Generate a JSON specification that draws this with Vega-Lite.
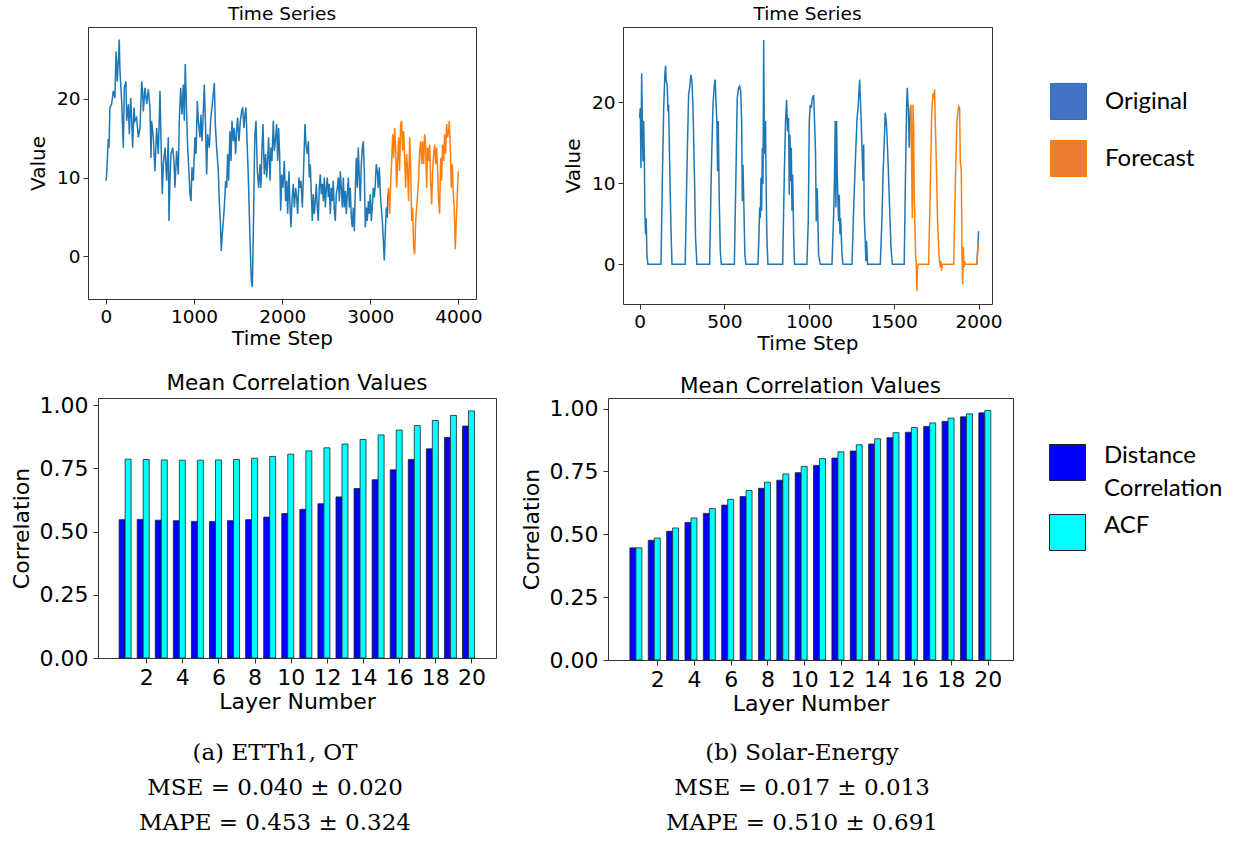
{
"$schema": "https://vega.github.io/schema/vega-lite/v6.json",
"background": "white",
"padding": {"left": 0, "top": 4, "right": 0, "bottom": 0},
"spacing": 18,
"config": {
  "font": "DejaVu Sans",
  "view": {"stroke": "#333333", "strokeWidth": 1},
  "axis": {"grid": false, "domain": false, "labelColor": "black", "titleColor": "black", "tickColor": "#333333", "tickSize": 5, "labelFont": "DejaVu Sans", "titleFont": "DejaVu Sans", "titleFontWeight": "normal"},
  "title": {"fontWeight": "normal", "color": "black", "font": "DejaVu Sans"},
  "style": {"guide-label": {"lineHeight": 33}}
},
"datasets": {
  "etth": [
    {"t":0,"v":9.6,"s":"Original"},{"t":8,"v":10.4,"s":"Original"},{"t":26,"v":14.9,"s":"Original"},{"t":34,"v":13.8,"s":"Original"},{"t":45,"v":18.9,"s":"Original"},{"t":64,"v":19.3,"s":"Original"},{"t":83,"v":21.0,"s":"Original"},{"t":102,"v":20.1,"s":"Original"},{"t":114,"v":26.0,"s":"Original"},{"t":129,"v":22.2,"s":"Original"},{"t":140,"v":24.8,"s":"Original"},{"t":151,"v":27.5,"s":"Original"},{"t":159,"v":23.5,"s":"Original"},{"t":178,"v":19.7,"s":"Original"},{"t":197,"v":13.8,"s":"Original"},{"t":208,"v":21.4,"s":"Original"},{"t":227,"v":22.2,"s":"Original"},{"t":235,"v":17.2,"s":"Original"},{"t":254,"v":19.3,"s":"Original"},{"t":265,"v":15.5,"s":"Original"},{"t":280,"v":20.1,"s":"Original"},{"t":291,"v":17.6,"s":"Original"},{"t":303,"v":13.8,"s":"Original"},{"t":318,"v":18.9,"s":"Original"},{"t":329,"v":17.2,"s":"Original"},{"t":348,"v":17.6,"s":"Original"},{"t":367,"v":15.1,"s":"Original"},{"t":386,"v":16.3,"s":"Original"},{"t":405,"v":22.2,"s":"Original"},{"t":416,"v":21.0,"s":"Original"},{"t":424,"v":18.4,"s":"Original"},{"t":443,"v":21.4,"s":"Original"},{"t":462,"v":19.3,"s":"Original"},{"t":481,"v":21.2,"s":"Original"},{"t":499,"v":18.9,"s":"Original"},{"t":511,"v":12.5,"s":"Original"},{"t":518,"v":17.2,"s":"Original"},{"t":537,"v":15.1,"s":"Original"},{"t":556,"v":10.8,"s":"Original"},{"t":575,"v":16.3,"s":"Original"},{"t":594,"v":13.0,"s":"Original"},{"t":613,"v":21.0,"s":"Original"},{"t":624,"v":15.1,"s":"Original"},{"t":639,"v":7.9,"s":"Original"},{"t":651,"v":11.7,"s":"Original"},{"t":670,"v":13.8,"s":"Original"},{"t":689,"v":9.6,"s":"Original"},{"t":708,"v":15.1,"s":"Original"},{"t":715,"v":4.5,"s":"Original"},{"t":726,"v":9.6,"s":"Original"},{"t":738,"v":13.0,"s":"Original"},{"t":757,"v":13.8,"s":"Original"},{"t":772,"v":12.1,"s":"Original"},{"t":783,"v":8.7,"s":"Original"},{"t":802,"v":13.4,"s":"Original"},{"t":821,"v":10.4,"s":"Original"},{"t":832,"v":17.2,"s":"Original"},{"t":848,"v":21.4,"s":"Original"},{"t":863,"v":18.0,"s":"Original"},{"t":878,"v":21.8,"s":"Original"},{"t":889,"v":17.2,"s":"Original"},{"t":900,"v":24.4,"s":"Original"},{"t":916,"v":18.0,"s":"Original"},{"t":927,"v":13.8,"s":"Original"},{"t":942,"v":10.8,"s":"Original"},{"t":953,"v":7.9,"s":"Original"},{"t":965,"v":7.0,"s":"Original"},{"t":976,"v":11.3,"s":"Original"},{"t":991,"v":9.6,"s":"Original"},{"t":1010,"v":15.1,"s":"Original"},{"t":1022,"v":13.0,"s":"Original"},{"t":1037,"v":19.7,"s":"Original"},{"t":1048,"v":17.2,"s":"Original"},{"t":1067,"v":15.1,"s":"Original"},{"t":1078,"v":18.0,"s":"Original"},{"t":1090,"v":14.6,"s":"Original"},{"t":1105,"v":18.4,"s":"Original"},{"t":1116,"v":21.8,"s":"Original"},{"t":1128,"v":17.2,"s":"Original"},{"t":1143,"v":10.4,"s":"Original"},{"t":1154,"v":15.5,"s":"Original"},{"t":1173,"v":13.8,"s":"Original"},{"t":1188,"v":17.2,"s":"Original"},{"t":1203,"v":18.9,"s":"Original"},{"t":1218,"v":20.6,"s":"Original"},{"t":1230,"v":22.0,"s":"Original"},{"t":1241,"v":16.8,"s":"Original"},{"t":1256,"v":13.8,"s":"Original"},{"t":1275,"v":10.8,"s":"Original"},{"t":1286,"v":7.0,"s":"Original"},{"t":1298,"v":4.5,"s":"Original"},{"t":1309,"v":0.7,"s":"Original"},{"t":1320,"v":2.8,"s":"Original"},{"t":1332,"v":4.5,"s":"Original"},{"t":1343,"v":6.2,"s":"Original"},{"t":1358,"v":9.6,"s":"Original"},{"t":1370,"v":8.7,"s":"Original"},{"t":1381,"v":13.0,"s":"Original"},{"t":1392,"v":9.6,"s":"Original"},{"t":1407,"v":15.9,"s":"Original"},{"t":1419,"v":12.1,"s":"Original"},{"t":1430,"v":17.2,"s":"Original"},{"t":1445,"v":14.6,"s":"Original"},{"t":1457,"v":16.3,"s":"Original"},{"t":1472,"v":13.0,"s":"Original"},{"t":1483,"v":15.9,"s":"Original"},{"t":1494,"v":17.6,"s":"Original"},{"t":1510,"v":14.6,"s":"Original"},{"t":1525,"v":17.2,"s":"Original"},{"t":1540,"v":18.4,"s":"Original"},{"t":1551,"v":18.9,"s":"Original"},{"t":1566,"v":16.3,"s":"Original"},{"t":1578,"v":18.0,"s":"Original"},{"t":1589,"v":18.9,"s":"Original"},{"t":1604,"v":13.8,"s":"Original"},{"t":1616,"v":10.0,"s":"Original"},{"t":1627,"v":5.4,"s":"Original"},{"t":1638,"v":1.1,"s":"Original"},{"t":1650,"v":-3.1,"s":"Original"},{"t":1661,"v":-3.9,"s":"Original"},{"t":1669,"v":0.7,"s":"Original"},{"t":1676,"v":5.4,"s":"Original"},{"t":1684,"v":12.1,"s":"Original"},{"t":1691,"v":15.5,"s":"Original"},{"t":1703,"v":17.2,"s":"Original"},{"t":1718,"v":10.8,"s":"Original"},{"t":1733,"v":8.7,"s":"Original"},{"t":1748,"v":11.7,"s":"Original"},{"t":1759,"v":8.7,"s":"Original"},{"t":1771,"v":13.8,"s":"Original"},{"t":1782,"v":16.8,"s":"Original"},{"t":1797,"v":10.4,"s":"Original"},{"t":1812,"v":13.0,"s":"Original"},{"t":1824,"v":10.0,"s":"Original"},{"t":1835,"v":12.1,"s":"Original"},{"t":1846,"v":15.1,"s":"Original"},{"t":1862,"v":9.6,"s":"Original"},{"t":1873,"v":13.8,"s":"Original"},{"t":1884,"v":12.1,"s":"Original"},{"t":1899,"v":17.2,"s":"Original"},{"t":1911,"v":13.4,"s":"Original"},{"t":1922,"v":14.6,"s":"Original"},{"t":1937,"v":16.8,"s":"Original"},{"t":1949,"v":12.1,"s":"Original"},{"t":1960,"v":16.3,"s":"Original"},{"t":1971,"v":13.0,"s":"Original"},{"t":1983,"v":5.8,"s":"Original"},{"t":1994,"v":10.4,"s":"Original"},{"t":2009,"v":8.7,"s":"Original"},{"t":2024,"v":12.1,"s":"Original"},{"t":2039,"v":7.0,"s":"Original"},{"t":2051,"v":9.6,"s":"Original"},{"t":2062,"v":5.4,"s":"Original"},{"t":2077,"v":10.8,"s":"Original"},{"t":2089,"v":6.2,"s":"Original"},{"t":2100,"v":3.7,"s":"Original"},{"t":2111,"v":7.0,"s":"Original"},{"t":2126,"v":9.2,"s":"Original"},{"t":2138,"v":6.2,"s":"Original"},{"t":2153,"v":8.7,"s":"Original"},{"t":2164,"v":7.5,"s":"Original"},{"t":2176,"v":5.4,"s":"Original"},{"t":2191,"v":10.0,"s":"Original"},{"t":2202,"v":8.7,"s":"Original"},{"t":2213,"v":9.6,"s":"Original"},{"t":2229,"v":6.2,"s":"Original"},{"t":2244,"v":11.3,"s":"Original"},{"t":2259,"v":16.8,"s":"Original"},{"t":2270,"v":14.2,"s":"Original"},{"t":2285,"v":13.0,"s":"Original"},{"t":2297,"v":14.6,"s":"Original"},{"t":2308,"v":10.0,"s":"Original"},{"t":2319,"v":11.7,"s":"Original"},{"t":2331,"v":7.9,"s":"Original"},{"t":2342,"v":4.5,"s":"Original"},{"t":2353,"v":7.9,"s":"Original"},{"t":2365,"v":5.4,"s":"Original"},{"t":2376,"v":7.0,"s":"Original"},{"t":2387,"v":9.2,"s":"Original"},{"t":2399,"v":6.2,"s":"Original"},{"t":2410,"v":4.5,"s":"Original"},{"t":2421,"v":8.7,"s":"Original"},{"t":2433,"v":10.4,"s":"Original"},{"t":2444,"v":7.9,"s":"Original"},{"t":2456,"v":9.2,"s":"Original"},{"t":2467,"v":7.0,"s":"Original"},{"t":2478,"v":10.0,"s":"Original"},{"t":2490,"v":6.2,"s":"Original"},{"t":2501,"v":8.7,"s":"Original"},{"t":2512,"v":10.0,"s":"Original"},{"t":2524,"v":7.5,"s":"Original"},{"t":2535,"v":9.2,"s":"Original"},{"t":2546,"v":5.4,"s":"Original"},{"t":2558,"v":8.7,"s":"Original"},{"t":2569,"v":7.0,"s":"Original"},{"t":2580,"v":9.6,"s":"Original"},{"t":2592,"v":5.8,"s":"Original"},{"t":2603,"v":4.5,"s":"Original"},{"t":2614,"v":7.9,"s":"Original"},{"t":2626,"v":8.7,"s":"Original"},{"t":2637,"v":10.0,"s":"Original"},{"t":2649,"v":7.0,"s":"Original"},{"t":2660,"v":10.8,"s":"Original"},{"t":2671,"v":8.7,"s":"Original"},{"t":2683,"v":6.2,"s":"Original"},{"t":2694,"v":10.0,"s":"Original"},{"t":2705,"v":6.2,"s":"Original"},{"t":2717,"v":8.3,"s":"Original"},{"t":2728,"v":5.4,"s":"Original"},{"t":2739,"v":7.9,"s":"Original"},{"t":2751,"v":10.0,"s":"Original"},{"t":2762,"v":6.2,"s":"Original"},{"t":2773,"v":8.7,"s":"Original"},{"t":2785,"v":4.9,"s":"Original"},{"t":2796,"v":3.7,"s":"Original"},{"t":2807,"v":6.2,"s":"Original"},{"t":2819,"v":3.2,"s":"Original"},{"t":2830,"v":8.3,"s":"Original"},{"t":2841,"v":12.5,"s":"Original"},{"t":2853,"v":8.7,"s":"Original"},{"t":2864,"v":13.8,"s":"Original"},{"t":2876,"v":10.0,"s":"Original"},{"t":2887,"v":7.0,"s":"Original"},{"t":2898,"v":11.7,"s":"Original"},{"t":2910,"v":13.8,"s":"Original"},{"t":2921,"v":14.6,"s":"Original"},{"t":2932,"v":10.8,"s":"Original"},{"t":2944,"v":3.7,"s":"Original"},{"t":2955,"v":6.2,"s":"Original"},{"t":2966,"v":4.5,"s":"Original"},{"t":2978,"v":7.0,"s":"Original"},{"t":2989,"v":5.4,"s":"Original"},{"t":3000,"v":7.9,"s":"Original"},{"t":3012,"v":4.5,"s":"Original"},{"t":3023,"v":6.2,"s":"Original"},{"t":3034,"v":8.7,"s":"Original"},{"t":3046,"v":7.5,"s":"Original"},{"t":3057,"v":9.2,"s":"Original"},{"t":3068,"v":11.7,"s":"Original"},{"t":3080,"v":10.8,"s":"Original"},{"t":3091,"v":8.7,"s":"Original"},{"t":3103,"v":11.3,"s":"Original"},{"t":3114,"v":7.9,"s":"Original"},{"t":3125,"v":6.2,"s":"Original"},{"t":3137,"v":4.5,"s":"Original"},{"t":3148,"v":2.0,"s":"Original"},{"t":3159,"v":-0.5,"s":"Original"},{"t":3171,"v":3.2,"s":"Original"},{"t":3182,"v":6.2,"s":"Original"},{"t":3193,"v":4.9,"s":"Original"},{"t":3200,"v":7.9,"s":"Original"},
    {"t":3200,"v":7.9,"s":"Forecast"},{"t":3208,"v":8.7,"s":"Forecast"},{"t":3220,"v":5.4,"s":"Forecast"},{"t":3231,"v":9.2,"s":"Forecast"},{"t":3243,"v":12.1,"s":"Forecast"},{"t":3254,"v":15.5,"s":"Forecast"},{"t":3265,"v":12.5,"s":"Forecast"},{"t":3277,"v":16.3,"s":"Forecast"},{"t":3288,"v":13.8,"s":"Forecast"},{"t":3299,"v":8.7,"s":"Forecast"},{"t":3311,"v":12.1,"s":"Forecast"},{"t":3322,"v":15.1,"s":"Forecast"},{"t":3333,"v":10.8,"s":"Forecast"},{"t":3345,"v":16.8,"s":"Forecast"},{"t":3356,"v":17.2,"s":"Forecast"},{"t":3367,"v":13.4,"s":"Forecast"},{"t":3379,"v":15.9,"s":"Forecast"},{"t":3390,"v":12.5,"s":"Forecast"},{"t":3401,"v":8.7,"s":"Forecast"},{"t":3413,"v":13.0,"s":"Forecast"},{"t":3424,"v":10.8,"s":"Forecast"},{"t":3435,"v":7.0,"s":"Forecast"},{"t":3447,"v":15.1,"s":"Forecast"},{"t":3458,"v":11.7,"s":"Forecast"},{"t":3470,"v":4.5,"s":"Forecast"},{"t":3481,"v":6.2,"s":"Forecast"},{"t":3492,"v":1.1,"s":"Forecast"},{"t":3504,"v":0.3,"s":"Forecast"},{"t":3515,"v":4.5,"s":"Forecast"},{"t":3526,"v":6.2,"s":"Forecast"},{"t":3538,"v":7.9,"s":"Forecast"},{"t":3549,"v":10.0,"s":"Forecast"},{"t":3560,"v":13.4,"s":"Forecast"},{"t":3572,"v":14.6,"s":"Forecast"},{"t":3583,"v":11.7,"s":"Forecast"},{"t":3594,"v":14.6,"s":"Forecast"},{"t":3606,"v":11.7,"s":"Forecast"},{"t":3617,"v":15.5,"s":"Forecast"},{"t":3628,"v":14.2,"s":"Forecast"},{"t":3640,"v":8.7,"s":"Forecast"},{"t":3651,"v":13.8,"s":"Forecast"},{"t":3662,"v":12.1,"s":"Forecast"},{"t":3674,"v":14.2,"s":"Forecast"},{"t":3685,"v":9.6,"s":"Forecast"},{"t":3697,"v":6.6,"s":"Forecast"},{"t":3708,"v":10.8,"s":"Forecast"},{"t":3719,"v":13.0,"s":"Forecast"},{"t":3731,"v":14.2,"s":"Forecast"},{"t":3742,"v":11.7,"s":"Forecast"},{"t":3753,"v":13.8,"s":"Forecast"},{"t":3765,"v":10.8,"s":"Forecast"},{"t":3776,"v":7.0,"s":"Forecast"},{"t":3787,"v":5.4,"s":"Forecast"},{"t":3799,"v":12.5,"s":"Forecast"},{"t":3810,"v":9.6,"s":"Forecast"},{"t":3821,"v":14.2,"s":"Forecast"},{"t":3833,"v":12.1,"s":"Forecast"},{"t":3844,"v":15.5,"s":"Forecast"},{"t":3855,"v":13.0,"s":"Forecast"},{"t":3867,"v":16.8,"s":"Forecast"},{"t":3878,"v":15.1,"s":"Forecast"},{"t":3889,"v":15.9,"s":"Forecast"},{"t":3897,"v":17.2,"s":"Forecast"},{"t":3908,"v":13.8,"s":"Forecast"},{"t":3920,"v":8.7,"s":"Forecast"},{"t":3931,"v":11.7,"s":"Forecast"},{"t":3942,"v":7.9,"s":"Forecast"},{"t":3953,"v":6.2,"s":"Forecast"},{"t":3965,"v":0.9,"s":"Forecast"},{"t":3976,"v":4.5,"s":"Forecast"},{"t":3988,"v":7.9,"s":"Forecast"},{"t":3999,"v":10.8,"s":"Forecast"}
  ],
  "solar": [
    {"t":0,"v":18.1,"s":"Original","g":"a"},{"t":4,"v":19.3,"s":"Original","g":"a"},{"t":8,"v":11.9,"s":"Original","g":"a"},{"t":12,"v":23.6,"s":"Original","g":"a"},{"t":16,"v":18.1,"s":"Original","g":"a"},{"t":20,"v":12.7,"s":"Original","g":"a"},{"t":24,"v":17.7,"s":"Original","g":"a"},{"t":28,"v":13.1,"s":"Original","g":"a"},{"t":31,"v":6.2,"s":"Original","g":"a"},{"t":35,"v":3.7,"s":"Original","g":"a"},{"t":39,"v":5.7,"s":"Original","g":"a"},{"t":43,"v":1.2,"s":"Original","g":"a"},{"t":49,"v":0,"s":"Original","g":"a"},{"t":126,"v":0,"s":"Original","g":"a"},{"t":134,"v":10.3,"s":"Original","g":"a"},{"t":142,"v":19.3,"s":"Original","g":"a"},{"t":149,"v":23.4,"s":"Original","g":"a"},{"t":153,"v":24.5,"s":"Original","g":"a"},{"t":157,"v":22.6,"s":"Original","g":"a"},{"t":163,"v":22.2,"s":"Original","g":"a"},{"t":167,"v":18.9,"s":"Original","g":"a"},{"t":171,"v":19.7,"s":"Original","g":"a"},{"t":177,"v":12.7,"s":"Original","g":"a"},{"t":185,"v":4.5,"s":"Original","g":"a"},{"t":191,"v":0,"s":"Original","g":"a"},{"t":269,"v":0,"s":"Original","g":"a"},{"t":279,"v":11.5,"s":"Original","g":"a"},{"t":289,"v":20.9,"s":"Original","g":"a"},{"t":295,"v":21.8,"s":"Original","g":"a"},{"t":303,"v":23.4,"s":"Original","g":"a"},{"t":309,"v":22.6,"s":"Original","g":"a"},{"t":315,"v":19.3,"s":"Original","g":"a"},{"t":323,"v":11.5,"s":"Original","g":"a"},{"t":330,"v":3.3,"s":"Original","g":"a"},{"t":338,"v":0,"s":"Original","g":"a"},{"t":413,"v":0,"s":"Original","g":"a"},{"t":423,"v":11.5,"s":"Original","g":"a"},{"t":433,"v":19.7,"s":"Original","g":"a"},{"t":441,"v":22.2,"s":"Original","g":"a"},{"t":446,"v":22.8,"s":"Original","g":"a"},{"t":452,"v":19.3,"s":"Original","g":"a"},{"t":456,"v":17.7,"s":"Original","g":"a"},{"t":460,"v":11.5,"s":"Original","g":"a"},{"t":464,"v":17.7,"s":"Original","g":"a"},{"t":470,"v":7.8,"s":"Original","g":"a"},{"t":476,"v":1.6,"s":"Original","g":"a"},{"t":482,"v":0,"s":"Original","g":"a"},{"t":559,"v":0,"s":"Original","g":"a"},{"t":568,"v":10.7,"s":"Original","g":"a"},{"t":576,"v":20.5,"s":"Original","g":"a"},{"t":584,"v":21.8,"s":"Original","g":"a"},{"t":590,"v":22.0,"s":"Original","g":"a"},{"t":596,"v":21.4,"s":"Original","g":"a"},{"t":602,"v":17.7,"s":"Original","g":"a"},{"t":606,"v":7.8,"s":"Original","g":"a"},{"t":610,"v":12.3,"s":"Original","g":"a"},{"t":616,"v":6.2,"s":"Original","g":"a"},{"t":621,"v":1.2,"s":"Original","g":"a"},{"t":627,"v":0,"s":"Original","g":"a"},{"t":698,"v":0,"s":"Original","g":"a"},{"t":704,"v":3.3,"s":"Original","g":"a"},{"t":708,"v":7.0,"s":"Original","g":"a"},{"t":712,"v":5.7,"s":"Original","g":"a"},{"t":716,"v":10.7,"s":"Original","g":"a"},{"t":720,"v":6.6,"s":"Original","g":"a"},{"t":724,"v":14.4,"s":"Original","g":"a"},{"t":728,"v":9.9,"s":"Original","g":"a"},{"t":732,"v":27.7,"s":"Original","g":"a"},{"t":736,"v":15.2,"s":"Original","g":"a"},{"t":739,"v":13.6,"s":"Original","g":"a"},{"t":743,"v":17.7,"s":"Original","g":"a"},{"t":747,"v":8.6,"s":"Original","g":"a"},{"t":751,"v":3.3,"s":"Original","g":"a"},{"t":757,"v":0,"s":"Original","g":"a"},{"t":844,"v":0,"s":"Original","g":"a"},{"t":854,"v":11.5,"s":"Original","g":"a"},{"t":861,"v":17.7,"s":"Original","g":"a"},{"t":867,"v":20.3,"s":"Original","g":"a"},{"t":873,"v":16.4,"s":"Original","g":"a"},{"t":879,"v":18.1,"s":"Original","g":"a"},{"t":883,"v":8.6,"s":"Original","g":"a"},{"t":887,"v":16.0,"s":"Original","g":"a"},{"t":891,"v":10.3,"s":"Original","g":"a"},{"t":895,"v":14.4,"s":"Original","g":"a"},{"t":899,"v":6.6,"s":"Original","g":"a"},{"t":903,"v":11.1,"s":"Original","g":"a"},{"t":909,"v":3.3,"s":"Original","g":"a"},{"t":914,"v":0,"s":"Original","g":"a"},{"t":987,"v":0,"s":"Original","g":"a"},{"t":995,"v":5.3,"s":"Original","g":"a"},{"t":1001,"v":17.7,"s":"Original","g":"a"},{"t":1007,"v":19.7,"s":"Original","g":"a"},{"t":1013,"v":19.3,"s":"Original","g":"a"},{"t":1019,"v":20.5,"s":"Original","g":"a"},{"t":1027,"v":20.9,"s":"Original","g":"a"},{"t":1032,"v":17.7,"s":"Original","g":"a"},{"t":1038,"v":13.6,"s":"Original","g":"a"},{"t":1042,"v":5.3,"s":"Original","g":"a"},{"t":1048,"v":9.4,"s":"Original","g":"a"},{"t":1056,"v":1.2,"s":"Original","g":"a"},{"t":1066,"v":0,"s":"Original","g":"a"},{"t":1135,"v":0,"s":"Original","g":"a"},{"t":1145,"v":6.2,"s":"Original","g":"a"},{"t":1150,"v":11.1,"s":"Original","g":"a"},{"t":1154,"v":17.7,"s":"Original","g":"a"},{"t":1158,"v":7.0,"s":"Original","g":"a"},{"t":1162,"v":17.7,"s":"Original","g":"a"},{"t":1166,"v":11.5,"s":"Original","g":"a"},{"t":1170,"v":7.8,"s":"Original","g":"a"},{"t":1174,"v":5.3,"s":"Original","g":"a"},{"t":1178,"v":8.6,"s":"Original","g":"a"},{"t":1182,"v":3.7,"s":"Original","g":"a"},{"t":1186,"v":5.7,"s":"Original","g":"a"},{"t":1194,"v":1.2,"s":"Original","g":"a"},{"t":1200,"v":0,"s":"Original","g":"a"},{"t":1253,"v":0,"s":"Original","g":"a"},{"t":1263,"v":7.0,"s":"Original","g":"a"},{"t":1272,"v":12.3,"s":"Original","g":"a"},{"t":1282,"v":17.7,"s":"Original","g":"a"},{"t":1290,"v":19.7,"s":"Original","g":"a"},{"t":1298,"v":22.8,"s":"Original","g":"a"},{"t":1306,"v":18.5,"s":"Original","g":"a"},{"t":1312,"v":14.4,"s":"Original","g":"a"},{"t":1318,"v":10.3,"s":"Original","g":"a"},{"t":1322,"v":14.8,"s":"Original","g":"a"},{"t":1325,"v":6.2,"s":"Original","g":"a"},{"t":1331,"v":2.9,"s":"Original","g":"a"},{"t":1335,"v":0.4,"s":"Original","g":"a"},{"t":1339,"v":2.9,"s":"Original","g":"a"},{"t":1345,"v":0,"s":"Original","g":"a"},{"t":1420,"v":0,"s":"Original","g":"a"},{"t":1430,"v":5.7,"s":"Original","g":"a"},{"t":1436,"v":11.1,"s":"Original","g":"a"},{"t":1442,"v":14.4,"s":"Original","g":"a"},{"t":1449,"v":18.7,"s":"Original","g":"a"},{"t":1455,"v":17.7,"s":"Original","g":"a"},{"t":1461,"v":15.2,"s":"Original","g":"a"},{"t":1467,"v":11.9,"s":"Original","g":"a"},{"t":1475,"v":7.0,"s":"Original","g":"a"},{"t":1483,"v":2.1,"s":"Original","g":"a"},{"t":1491,"v":0,"s":"Original","g":"a"},{"t":1561,"v":0,"s":"Original","g":"a"},{"t":1569,"v":11.5,"s":"Original","g":"a"},{"t":1575,"v":19.3,"s":"Original","g":"a"},{"t":1579,"v":21.8,"s":"Original","g":"a"},{"t":1585,"v":19.3,"s":"Original","g":"a"},{"t":1591,"v":14.4,"s":"Original","g":"a"},{"t":1597,"v":19.3,"s":"Original","g":"a"},
    {"t":1990,"v":0,"s":"Original","g":"b"},{"t":2000,"v":4.1,"s":"Original","g":"b"},
    {"t":1597,"v":19.3,"s":"Forecast","g":"c"},{"t":1601,"v":19.7,"s":"Forecast","g":"c"},{"t":1605,"v":11.9,"s":"Forecast","g":"c"},{"t":1609,"v":5.7,"s":"Forecast","g":"c"},{"t":1613,"v":19.7,"s":"Forecast","g":"c"},{"t":1617,"v":16.4,"s":"Forecast","g":"c"},{"t":1620,"v":8.6,"s":"Forecast","g":"c"},{"t":1624,"v":5.3,"s":"Forecast","g":"c"},{"t":1628,"v":1.2,"s":"Forecast","g":"c"},{"t":1632,"v":0,"s":"Forecast","g":"c"},{"t":1636,"v":-3.3,"s":"Forecast","g":"c"},{"t":1640,"v":-0.4,"s":"Forecast","g":"c"},{"t":1644,"v":0,"s":"Forecast","g":"c"},{"t":1705,"v":0,"s":"Forecast","g":"c"},{"t":1715,"v":9.4,"s":"Forecast","g":"c"},{"t":1723,"v":18.5,"s":"Forecast","g":"c"},{"t":1731,"v":21.1,"s":"Forecast","g":"c"},{"t":1737,"v":20.5,"s":"Forecast","g":"c"},{"t":1740,"v":21.6,"s":"Forecast","g":"c"},{"t":1744,"v":17.7,"s":"Forecast","g":"c"},{"t":1748,"v":14.8,"s":"Forecast","g":"c"},{"t":1752,"v":11.1,"s":"Forecast","g":"c"},{"t":1758,"v":5.3,"s":"Forecast","g":"c"},{"t":1766,"v":1.2,"s":"Forecast","g":"c"},{"t":1774,"v":-0.4,"s":"Forecast","g":"c"},{"t":1778,"v":0.4,"s":"Forecast","g":"c"},{"t":1782,"v":-0.8,"s":"Forecast","g":"c"},{"t":1786,"v":0,"s":"Forecast","g":"c"},{"t":1853,"v":0,"s":"Forecast","g":"c"},{"t":1862,"v":9.4,"s":"Forecast","g":"c"},{"t":1872,"v":17.7,"s":"Forecast","g":"c"},{"t":1882,"v":19.5,"s":"Forecast","g":"c"},{"t":1888,"v":19.3,"s":"Forecast","g":"c"},{"t":1892,"v":12.7,"s":"Forecast","g":"c"},{"t":1898,"v":11.5,"s":"Forecast","g":"c"},{"t":1902,"v":1.2,"s":"Forecast","g":"c"},{"t":1906,"v":-2.5,"s":"Forecast","g":"c"},{"t":1910,"v":2.1,"s":"Forecast","g":"c"},{"t":1914,"v":-0.4,"s":"Forecast","g":"c"},{"t":1917,"v":0.4,"s":"Forecast","g":"c"},{"t":1921,"v":0,"s":"Forecast","g":"c"},{"t":1990,"v":0,"s":"Forecast","g":"c"},{"t":1996,"v":2.1,"s":"Forecast","g":"c"},{"t":2000,"v":2.7,"s":"Forecast","g":"c"}
  ],
  "ettbars": [
    {"layer":1,"dcor":0.547,"acf":0.786},{"layer":2,"dcor":0.548,"acf":0.785},{"layer":3,"dcor":0.545,"acf":0.783},{"layer":4,"dcor":0.543,"acf":0.782},{"layer":5,"dcor":0.540,"acf":0.782},{"layer":6,"dcor":0.540,"acf":0.783},{"layer":7,"dcor":0.543,"acf":0.785},{"layer":8,"dcor":0.547,"acf":0.790},{"layer":9,"dcor":0.557,"acf":0.797},{"layer":10,"dcor":0.571,"acf":0.806},{"layer":11,"dcor":0.588,"acf":0.819},{"layer":12,"dcor":0.610,"acf":0.831},{"layer":13,"dcor":0.637,"acf":0.846},{"layer":14,"dcor":0.670,"acf":0.864},{"layer":15,"dcor":0.705,"acf":0.882},{"layer":16,"dcor":0.744,"acf":0.901},{"layer":17,"dcor":0.785,"acf":0.919},{"layer":18,"dcor":0.827,"acf":0.939},{"layer":19,"dcor":0.872,"acf":0.959},{"layer":20,"dcor":0.917,"acf":0.977}
  ],
  "solarbars": [
    {"layer":1,"dcor":0.446,"acf":0.446},{"layer":2,"dcor":0.476,"acf":0.485},{"layer":3,"dcor":0.512,"acf":0.525},{"layer":4,"dcor":0.547,"acf":0.565},{"layer":5,"dcor":0.583,"acf":0.602},{"layer":6,"dcor":0.616,"acf":0.639},{"layer":7,"dcor":0.650,"acf":0.674},{"layer":8,"dcor":0.683,"acf":0.707},{"layer":9,"dcor":0.715,"acf":0.740},{"layer":10,"dcor":0.745,"acf":0.770},{"layer":11,"dcor":0.774,"acf":0.801},{"layer":12,"dcor":0.803,"acf":0.828},{"layer":13,"dcor":0.831,"acf":0.856},{"layer":14,"dcor":0.859,"acf":0.880},{"layer":15,"dcor":0.884,"acf":0.904},{"layer":16,"dcor":0.906,"acf":0.925},{"layer":17,"dcor":0.929,"acf":0.943},{"layer":18,"dcor":0.949,"acf":0.962},{"layer":19,"dcor":0.967,"acf":0.979},{"layer":20,"dcor":0.983,"acf":0.992}
  ]
},
"vconcat": [
  {
    "spacing": 79,
    "resolve": {"scale": {"color": "independent"}, "legend": {"color": "independent"}},
    "hconcat": [
      {
        "spacing": 0,
        "resolve": {"scale": {"color": "independent"}, "legend": {"color": "independent"}},
        "hconcat": [
          {"width": 27, "height": 10, "data": {"values": [{}]}, "mark": {"type": "text", "text": ""}, "view": {"stroke": null}},
          {
            "width": 388, "height": 272,
            "title": {"text": "Time Series", "fontSize": 18.5, "offset": 4},
            "data": {"name": "etth"},
            "mark": {"type": "line", "strokeWidth": 1.5},
            "encoding": {
              "x": {"field": "t", "type": "quantitative", "scale": {"domain": [-204, 4200], "nice": false, "zero": false},
                    "axis": {"values": [0, 1000, 2000, 3000, 4000], "format": "d", "title": "Time Step", "labelFontSize": 18.5, "titleFontSize": 20, "labelPadding": 3, "titlePadding": 3}},
              "y": {"field": "v", "type": "quantitative", "scale": {"domain": [-5.4, 29.1], "nice": false, "zero": false},
                    "axis": {"values": [0, 10, 20], "format": "d", "title": "Value", "labelFontSize": 18.5, "titleFontSize": 20, "labelPadding": 3, "titlePadding": 8}},
              "color": {"field": "s", "type": "nominal", "scale": {"domain": ["Original", "Forecast"], "range": ["#1f77b4", "#ff7f0e"]}, "legend": null}
            }
          }
        ]
      },
      {
        "width": 369, "height": 277,
        "title": {"text": "Time Series", "fontSize": 18.5, "offset": 4},
        "data": {"name": "solar"},
        "mark": {"type": "line", "strokeWidth": 1.5},
        "encoding": {
          "x": {"field": "t", "type": "quantitative", "scale": {"domain": [-98, 2079], "nice": false, "zero": false},
                "axis": {"values": [0, 500, 1000, 1500, 2000], "format": "d", "title": "Time Step", "labelFontSize": 18.5, "titleFontSize": 20, "labelPadding": 3, "titlePadding": 3}},
          "y": {"field": "v", "type": "quantitative", "scale": {"domain": [-4.9, 29.3], "nice": false, "zero": false},
                "axis": {"values": [0, 10, 20], "format": "d", "title": "Value", "labelFontSize": 18.5, "titleFontSize": 20, "labelPadding": 3, "titlePadding": 8}},
          "detail": {"field": "g", "type": "nominal"},
          "color": {"field": "s", "type": "nominal", "scale": {"domain": ["Original", "Forecast"], "range": ["#1f77b4", "#ff7f0e"]},
                    "legend": {"orient": "none", "legendX": 427, "legendY": 56, "title": null, "padding": 0, "symbolType": "square", "symbolSize": 1296, "symbolStrokeWidth": 1,
                               "labelFont": "Lato", "labelFontSize": 24, "labelColor": "black", "labelOffset": 18, "rowPadding": 16, "labelLimit": 300,
                               "encode": {"symbols": {"update": {"fill": {"signal": "datum.value === 'Original' ? '#4472c4' : '#ed7d31'"}, "stroke": {"signal": "datum.value === 'Original' ? '#3b64ad' : '#4a6d9a'"}, "strokeWidth": {"value": 1}, "opacity": {"value": 1}}}}}}
        }
      }
    ]
  },
  {
    "spacing": 22,
    "resolve": {"scale": {"fill": "independent"}, "legend": {"fill": "independent"}},
    "hconcat": [
      {
        "spacing": 0,
        "resolve": {"scale": {"fill": "independent"}, "legend": {"fill": "independent"}},
        "hconcat": [
          {"width": 9, "height": 10, "data": {"values": [{}]}, "mark": {"type": "text", "text": ""}, "view": {"stroke": null}},
          {
            "width": 398, "height": 260,
            "title": {"text": "Mean Correlation Values", "fontSize": 21.5, "offset": 0},
            "data": {"name": "ettbars"},
            "encoding": {
              "x": {"field": "layer", "type": "quantitative", "scale": {"domain": [-0.39, 21.08], "nice": false, "zero": false},
                    "axis": {"values": [2, 4, 6, 8, 10, 12, 14, 16, 18, 20], "title": "Layer Number", "labelFontSize": 22, "titleFontSize": 22, "labelPadding": 4, "titlePadding": 3}}
            },
            "layer": [
              {"mark": {"type": "bar", "width": 6, "xOffset": -6, "stroke": "#222222", "strokeWidth": 0.8},
               "encoding": {
                 "y": {"field": "dcor", "type": "quantitative", "scale": {"domain": [0, 1.028], "nice": false},
                       "axis": {"values": [0, 0.25, 0.5, 0.75, 1.0], "format": ".2f", "title": "Correlation", "labelFontSize": 22, "titleFontSize": 22, "labelPadding": 5, "titlePadding": 6}},
                 "fill": {"datum": "Distance Correlation", "type": "nominal", "scale": {"domain": ["Distance Correlation", "ACF"], "range": ["#0000ff", "#00ffff"]}, "legend": null}}},
              {"mark": {"type": "bar", "width": 6, "xOffset": 0, "stroke": "#222222", "strokeWidth": 0.8},
               "encoding": {
                 "y": {"field": "acf", "type": "quantitative"},
                 "fill": {"datum": "ACF", "type": "nominal"}}}
            ]
          }
        ]
      },
      {
        "width": 405, "height": 262,
        "title": {"text": "Mean Correlation Values", "fontSize": 21.5, "offset": 0},
        "data": {"name": "solarbars"},
        "encoding": {
          "x": {"field": "layer", "type": "quantitative", "scale": {"domain": [-0.41, 21.1], "nice": false, "zero": false},
                "axis": {"values": [2, 4, 6, 8, 10, 12, 14, 16, 18, 20], "title": "Layer Number", "labelFontSize": 22, "titleFontSize": 22, "labelPadding": 4, "titlePadding": 3}}
        },
        "layer": [
          {"mark": {"type": "bar", "width": 6, "xOffset": -6, "stroke": "#222222", "strokeWidth": 0.8},
           "encoding": {
             "y": {"field": "dcor", "type": "quantitative", "scale": {"domain": [0, 1.042], "nice": false},
                   "axis": {"values": [0, 0.25, 0.5, 0.75, 1.0], "format": ".2f", "title": "Correlation", "labelFontSize": 22, "titleFontSize": 22, "labelPadding": 5, "titlePadding": 6}},
             "fill": {"datum": "Distance Correlation", "type": "nominal", "scale": {"domain": ["Distance Correlation", "ACF"], "range": ["#0000ff", "#00ffff"]},
                      "legend": {"orient": "none", "legendX": 441, "legendY": 46, "title": null, "padding": 0, "symbolType": "square", "symbolSize": 1296, "symbolStrokeWidth": 1,
                                 "labelFont": "Lato", "labelFontSize": 24, "labelColor": "black", "labelOffset": 18, "labelBaseline": "alphabetic", "rowPadding": 11, "labelLimit": 300,
                                 "labelExpr": "datum.label === 'Distance Correlation' ? ['Distance', 'Correlation'] : datum.label",
                                 "encode": {"symbols": {"update": {"fill": {"signal": "datum.value === 'ACF' ? '#20f5f7' : '#0c1cf5'"}, "stroke": {"signal": "datum.value === 'ACF' ? '#5a8fb0' : '#4a6da0'"}, "strokeWidth": {"value": 1}, "opacity": {"value": 1}}}}}}}},
          {"mark": {"type": "bar", "width": 6, "xOffset": 0, "stroke": "#222222", "strokeWidth": 0.8},
           "encoding": {
             "y": {"field": "acf", "type": "quantitative"},
             "fill": {"datum": "ACF", "type": "nominal"}}}
        ]
      }
    ]
  },
  {
    "spacing": 0,
    "hconcat": [
      {"width": 550, "height": 1, "data": {"values": [{}]}, "mark": {"type": "text", "text": ""}, "view": {"stroke": null},
       "title": {"text": ["(a) ETTh1, OT", "MSE = 0.040 ± 0.020", "MAPE = 0.453 ± 0.324"], "orient": "bottom", "font": "DejaVu Serif", "fontSize": 23, "lineHeight": 35, "anchor": "middle", "offset": -3}},
      {"width": 504, "height": 1, "data": {"values": [{}]}, "mark": {"type": "text", "text": ""}, "view": {"stroke": null},
       "title": {"text": ["(b) Solar-Energy", "MSE = 0.017 ± 0.013", "MAPE = 0.510 ± 0.691"], "orient": "bottom", "font": "DejaVu Serif", "fontSize": 23, "lineHeight": 35, "anchor": "middle", "offset": -3}}
    ]
  }
]
}
